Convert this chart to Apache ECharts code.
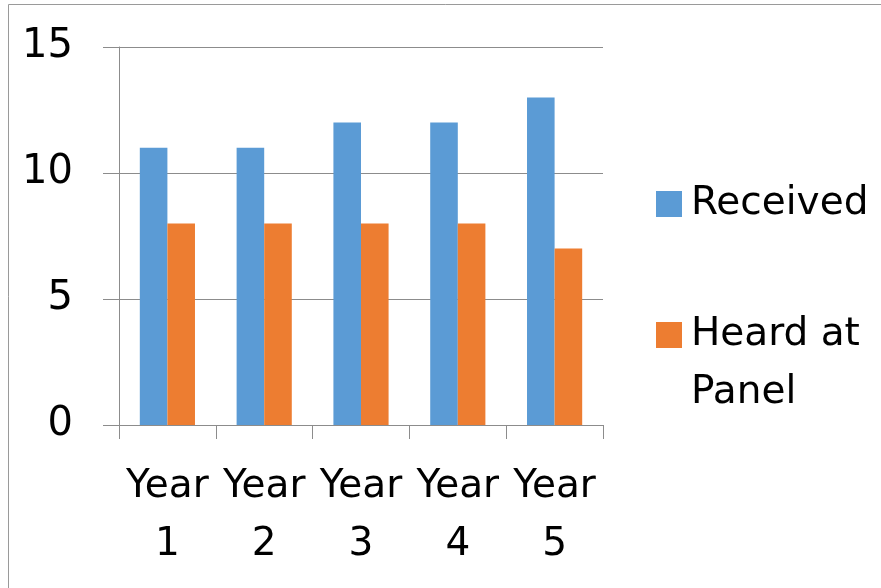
<!DOCTYPE html>
<html>
<head>
<meta charset="utf-8">
<script src="https://cdn.jsdelivr.net/npm/echarts@6/dist/echarts.min.js"></script>
<style>
  html, body { margin: 0; padding: 0; background: #fff; }
  #chart { width: 881px; height: 588px; }
</style>
</head>
<body>
<div id="chart"></div>
<script>
// Case counts per year
const categories = ['Year 1', 'Year 2', 'Year 3', 'Year 4', 'Year 5'];
const received = [11, 11, 12, 12, 13];
const heardAtPanel = [8, 8, 8, 8, 7];
const yTicks = { min: 0, max: 15, interval: 5 };

const FONT = 'DejaVu Sans';
const GRAY = '#8c8c8c';
const LABEL_SIZE = 39;

const chart = echarts.init(document.getElementById('chart'), null, { renderer: 'canvas' });

const legendText = { fontFamily: FONT, fontSize: LABEL_SIZE, color: '#000', lineHeight: 58, padding: [0, 0, 0, 4] };

chart.setOption({
  animation: false,
  backgroundColor: '#fff',
  textStyle: { fontFamily: FONT },
  graphic: [{
    type: 'rect',
    shape: { x: 8.5, y: 4.5, width: 900, height: 620 },
    style: { fill: 'none', stroke: '#9a9a9a', lineWidth: 1 },
    silent: true
  }],
  grid: { left: 119, right: 278, top: 47, bottom: 163, containLabel: false },
  legend: [{
    data: ['Received'],
    orient: 'vertical',
    left: 651,
    top: 170,
    itemWidth: 26,
    itemHeight: 26,
    icon: 'rect',
    textStyle: legendText
  }, {
    data: ['Heard at Panel'],
    orient: 'vertical',
    left: 651,
    top: 243,
    itemWidth: 26,
    itemHeight: 26,
    icon: 'rect',
    // leading blank line keeps the first text line level with the swatch
    formatter: name => '\n' + name.replace(' Panel', '\nPanel'),
    textStyle: legendText
  }],
  xAxis: {
    type: 'category',
    data: categories,
    axisLine: { show: true, lineStyle: { color: GRAY, width: 1 } },
    axisTick: { show: true, length: 14, interval: 0, lineStyle: { color: GRAY, width: 1 } },
    axisLabel: {
      interval: 0,
      margin: 33,
      color: '#000',
      fontFamily: FONT,
      fontSize: LABEL_SIZE,
      lineHeight: 58,
      formatter: v => v.replace(' ', '\n')
    }
  },
  yAxis: {
    type: 'value',
    min: yTicks.min,
    max: yTicks.max,
    interval: yTicks.interval,
    axisLine: { show: true, lineStyle: { color: GRAY, width: 1 } },
    axisTick: { show: true, length: 16, lineStyle: { color: GRAY, width: 1 } },
    splitLine: { show: true, lineStyle: { color: GRAY, width: 1 } },
    axisLabel: { margin: 46, color: '#000', fontFamily: FONT, fontSize: 40 }
  },
  series: [{
    name: 'Received',
    type: 'bar',
    data: received,
    barGap: '0%',
    barCategoryGap: '43%',
    itemStyle: { color: '#5B9BD5' }
  }, {
    name: 'Heard at Panel',
    type: 'bar',
    data: heardAtPanel,
    barGap: '0%',
    barCategoryGap: '43%',
    itemStyle: { color: '#ED7D31' }
  }]
});
</script>
</body>
</html>
